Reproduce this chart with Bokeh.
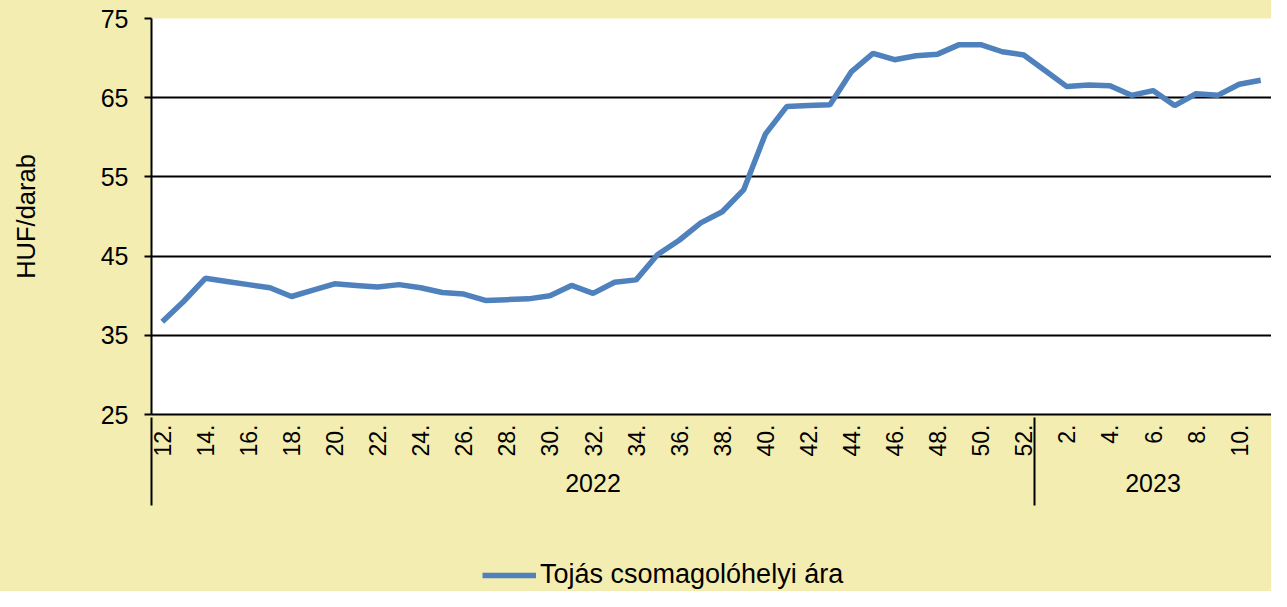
import math
from bokeh.plotting import figure
from bokeh.layouts import column
from bokeh.models import FixedTicker, LinearAxis, Legend, LegendItem, Range1d
from bokeh.embed import file_html
from bokeh.resources import INLINE

# ---- data ----
weeks_2022 = list(range(12, 53))
weeks_2023 = list(range(1, 12))
years = ["2022", "2023"]
series_name = "Tojás csomagolóhelyi ára"
price = [
    36.7, 39.3, 42.2, 41.8, 41.4, 41.0, 39.9, 40.7, 41.5, 41.3,
    41.1, 41.4, 41.0, 40.4, 40.2, 39.4, 39.5, 39.6, 40.0, 41.3,
    40.3, 41.7, 42.0, 45.2, 47.0, 49.2, 50.6, 53.4, 60.4, 63.9,
    64.0, 64.1, 68.3, 70.6, 69.8, 70.3, 70.5, 71.7, 71.7, 70.8,
    70.4, 68.4, 66.4, 66.6, 66.5, 65.3, 65.9, 64.0, 65.5, 65.3,
    66.7, 67.2,
]
y_ticks = [25, 35, 45, 55, 65, 75]

# ---- derived ----
week_labels = [f"{w}." for w in weeks_2022] + [f"{w}." for w in weeks_2023]
idx = list(range(len(price)))
n22 = len(weeks_2022)
n23 = len(weeks_2023)

FONT = "Liberation Sans"
BG = "#F4EDB1"
BLUE = "#4F81BD"
W = 1271
LEFT = 151

p = figure(frame_width=W - LEFT, frame_height=396, output_backend="svg", toolbar_location=None,
           x_range=Range1d(-0.5, len(price) - 0.5), y_range=Range1d(25, 75),
           x_axis_location=None, min_border_left=LEFT, min_border_right=0,
           min_border_top=18, min_border_bottom=137)
p.background_fill_color = "white"
p.border_fill_color = BG
p.outline_line_color = None

r = p.line(idx, price, line_color=BLUE, line_width=5.5)

# y axis
ya = p.yaxis[0]
ya.ticker = FixedTicker(ticks=y_ticks)
ya.axis_label = "HUF/darab"
ya.axis_label_text_font = FONT
ya.axis_label_text_font_size = "25.5px"
ya.axis_label_text_font_style = "normal"
ya.axis_label_text_color = "black"
ya.axis_label_standoff = 58
ya.major_label_text_font = FONT
ya.major_label_text_font_size = "25px"
ya.major_label_text_color = "black"
ya.major_label_standoff = 16
ya.axis_line_color = "black"
ya.axis_line_width = 2
ya.major_tick_line_color = "black"
ya.major_tick_line_width = 2
ya.major_tick_out = 7
ya.major_tick_in = 0
ya.minor_tick_line_color = None

p.ygrid.ticker = FixedTicker(ticks=y_ticks)
p.ygrid.grid_line_color = "black"
p.ygrid.grid_line_width = 2
p.xgrid.grid_line_color = None

# x axis: weeks
major = [i for i in idx if i % 2 == 0]
xa = LinearAxis(ticker=FixedTicker(ticks=major))
xa.major_label_overrides = {i: week_labels[i] for i in major}
xa.major_label_orientation = math.pi / 2
xa.major_label_text_font = FONT
xa.major_label_text_font_size = "23px"
xa.major_label_text_color = "black"
xa.major_label_standoff = 10
xa.axis_line_color = "black"
xa.axis_line_width = 2
xa.major_tick_line_color = None
xa.major_tick_out = 0
xa.major_tick_in = 0
xa.minor_tick_line_color = None
p.add_layout(xa, "below")

# x axis: years, with group separators as minor ticks
year_pos = [(n22 - 1) / 2, n22 + (n23 - 1) / 2]
xb = LinearAxis(ticker=FixedTicker(ticks=year_pos, minor_ticks=[-0.5, n22 - 0.5]))
xb.major_label_overrides = {year_pos[0]: years[0], year_pos[1]: years[1]}
xb.major_label_text_font = FONT
xb.major_label_text_font_size = "25px"
xb.major_label_text_color = "black"
xb.major_label_standoff = -32
xb.axis_line_color = None
xb.major_tick_line_color = None
xb.major_tick_out = 0
xb.major_tick_in = 0
xb.minor_tick_line_color = "black"
xb.minor_tick_line_width = 2
xb.minor_tick_in = 42
xb.minor_tick_out = 46
p.add_layout(xb, "below")

# legend strip below the chart (its frame is aligned with the chart's frame)
lg = figure(width=W, height=40, output_backend="svg", toolbar_location=None,
            x_axis_location=None, y_axis_location=None,
            x_range=Range1d(-0.5, len(price) - 0.5), y_range=Range1d(0, 1),
            min_border=0, min_border_left=0, min_border_right=0,
            min_border_top=0, min_border_bottom=0)
lg.background_fill_color = None
lg.border_fill_color = BG
lg.outline_line_color = None
lg.grid.visible = False
# same series, outside this strip's y range: only its legend sample shows
lr = lg.line(idx, price, line_color=BLUE, line_width=5.5)
legend = Legend(items=[LegendItem(label=series_name, renderers=[lr])],
                location=(482 - LEFT, 1), orientation="horizontal",
                label_text_font=FONT, label_text_font_size="27px",
                label_text_color="black",
                glyph_width=54, glyph_height=20, label_standoff=4,
                border_line_color=None, background_fill_alpha=0,
                margin=0, padding=0)
lg.add_layout(legend, "center")

layout = column(p, lg, spacing=0, styles={"background-color": BG})
open("out.html", "w").write(file_html(layout, INLINE))
